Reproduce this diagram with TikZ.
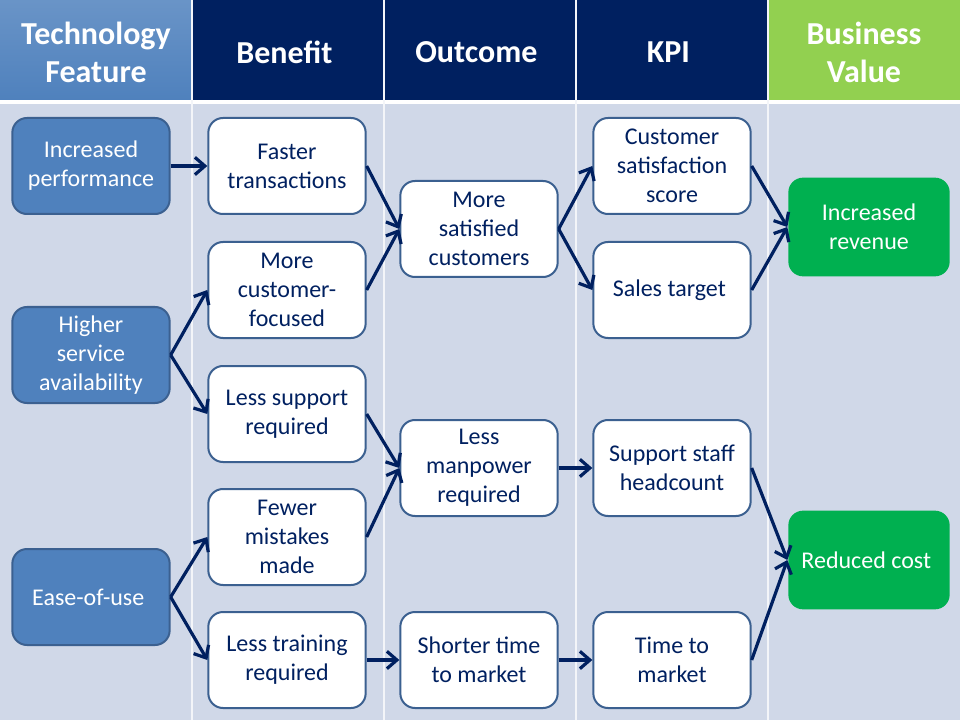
\documentclass[tikz,border=0pt]{standalone}
\usepackage{fontspec}
\setmainfont{Carlito}
\usetikzlibrary{positioning, arrows.meta}
\definecolor{navy}{HTML}{002060}
\definecolor{featblue}{HTML}{4F81BD}
\definecolor{edgeblue}{HTML}{3B6090}
\definecolor{bodybg}{HTML}{D0D8E8}
\definecolor{hdrgreen}{HTML}{92D050}
\definecolor{valgreen}{HTML}{00B050}
\begin{document}
\begin{tikzpicture}[x = 0.75pt, y = -0.75pt,
    box/.style = { draw = edgeblue, line width = 1.5pt, rounded corners = 11pt, minimum width = 118pt, minimum height = 72pt, inner sep = 2pt, align = center, font = \fontsize{18}{21.75}\selectfont },
    feature/.style = { box, fill = featblue, text = white },
    plain/.style = { box, fill = white, text = navy },
    value/.style = { box, draw = none, fill = valgreen, text = white, minimum width = 121pt, minimum height = 74pt },
    header/.style = { text = white, align = center, font = \fontsize{24}{28.5}\selectfont\bfseries },
    link/.style = { draw = navy, line width = 2.4pt, -{Straight Barb[length = 7.5pt, width = 13pt]} }
  ]
  \useasboundingbox (0,0) rectangle (960,720);
  % columns
  \fill[bodybg] (0,0) rectangle (960,720);
  \shade[top color = featblue!85!white, bottom color = featblue] (0,0) rectangle (192,100);
  \fill[navy] (192,0) rectangle (768,100);
  \fill[hdrgreen] (768,0) rectangle (960,100);
  \fill[white] (0,100) rectangle (960,104);
  \foreach \x in {192, 384, 576, 768}
    \draw[white!75!bodybg, line width = 1.5pt] (\x,0) -- (\x,720);

  % headers
  \node[header] (hfeature) at (96,52) { Technology \\ Feature };
  \node[header] (hbenefit) at (288,52) { Benefit };
  \node[header] (houtcome) at (480,52) { Outcome };
  \node[header] (hkpi) at (672,52) { KPI };
  \node[header] (hvalue) at (864,52) { Business \\ Value };

  % technology features
  \node[feature] (perf) at (91,166) { Increased \\ performance };
  \node[feature] (avail) at (91,355) { Higher \\ service \\ availability };
  \node[feature] (ease) at (91,597) { Ease-of-use };

  % benefits
  \node[plain] (faster) at (287,166) { Faster \\ transactions };
  \node[plain] (focused) at (287,290) { More \\ customer- \\ focused };
  \node[plain] (support) at (287,414) { Less support \\ required };
  \node[plain] (mistakes) at (287,537) { Fewer \\ mistakes \\ made };
  \node[plain] (training) at (287,660) { Less training \\ required };

  % outcomes
  \node[plain] (satisfied) at (479,229) { More \\ satisfied \\ customers };
  \node[plain] (manpower) at (479,468) { Less \\ manpower \\ required };
  \node[plain] (shorter) at (479,660) { Shorter time \\ to market };

  % kpis
  \node[plain] (score) at (672,166) { Customer \\ satisfaction \\ score };
  \node[plain] (sales) at (672,290) { Sales target };
  \node[plain] (headcount) at (672,468) { Support staff \\ headcount };
  \node[plain] (ttm) at (672,660) { Time to \\ market };

  % business value
  \node[value] (revenue) at (869,227) { Increased \\ revenue };
  \node[value] (cost) at (869,560) { Reduced cost };

  \foreach \a/\b in {perf/faster, avail/focused, avail/support, ease/mistakes, ease/training,
      faster/satisfied, focused/satisfied, support/manpower, mistakes/manpower, training/shorter,
      satisfied/score, satisfied/sales, manpower/headcount, shorter/ttm,
      score/revenue, sales/revenue, headcount/cost, ttm/cost}
    \draw[link] (\a.east) -- (\b.west);
\end{tikzpicture}
\end{document}
